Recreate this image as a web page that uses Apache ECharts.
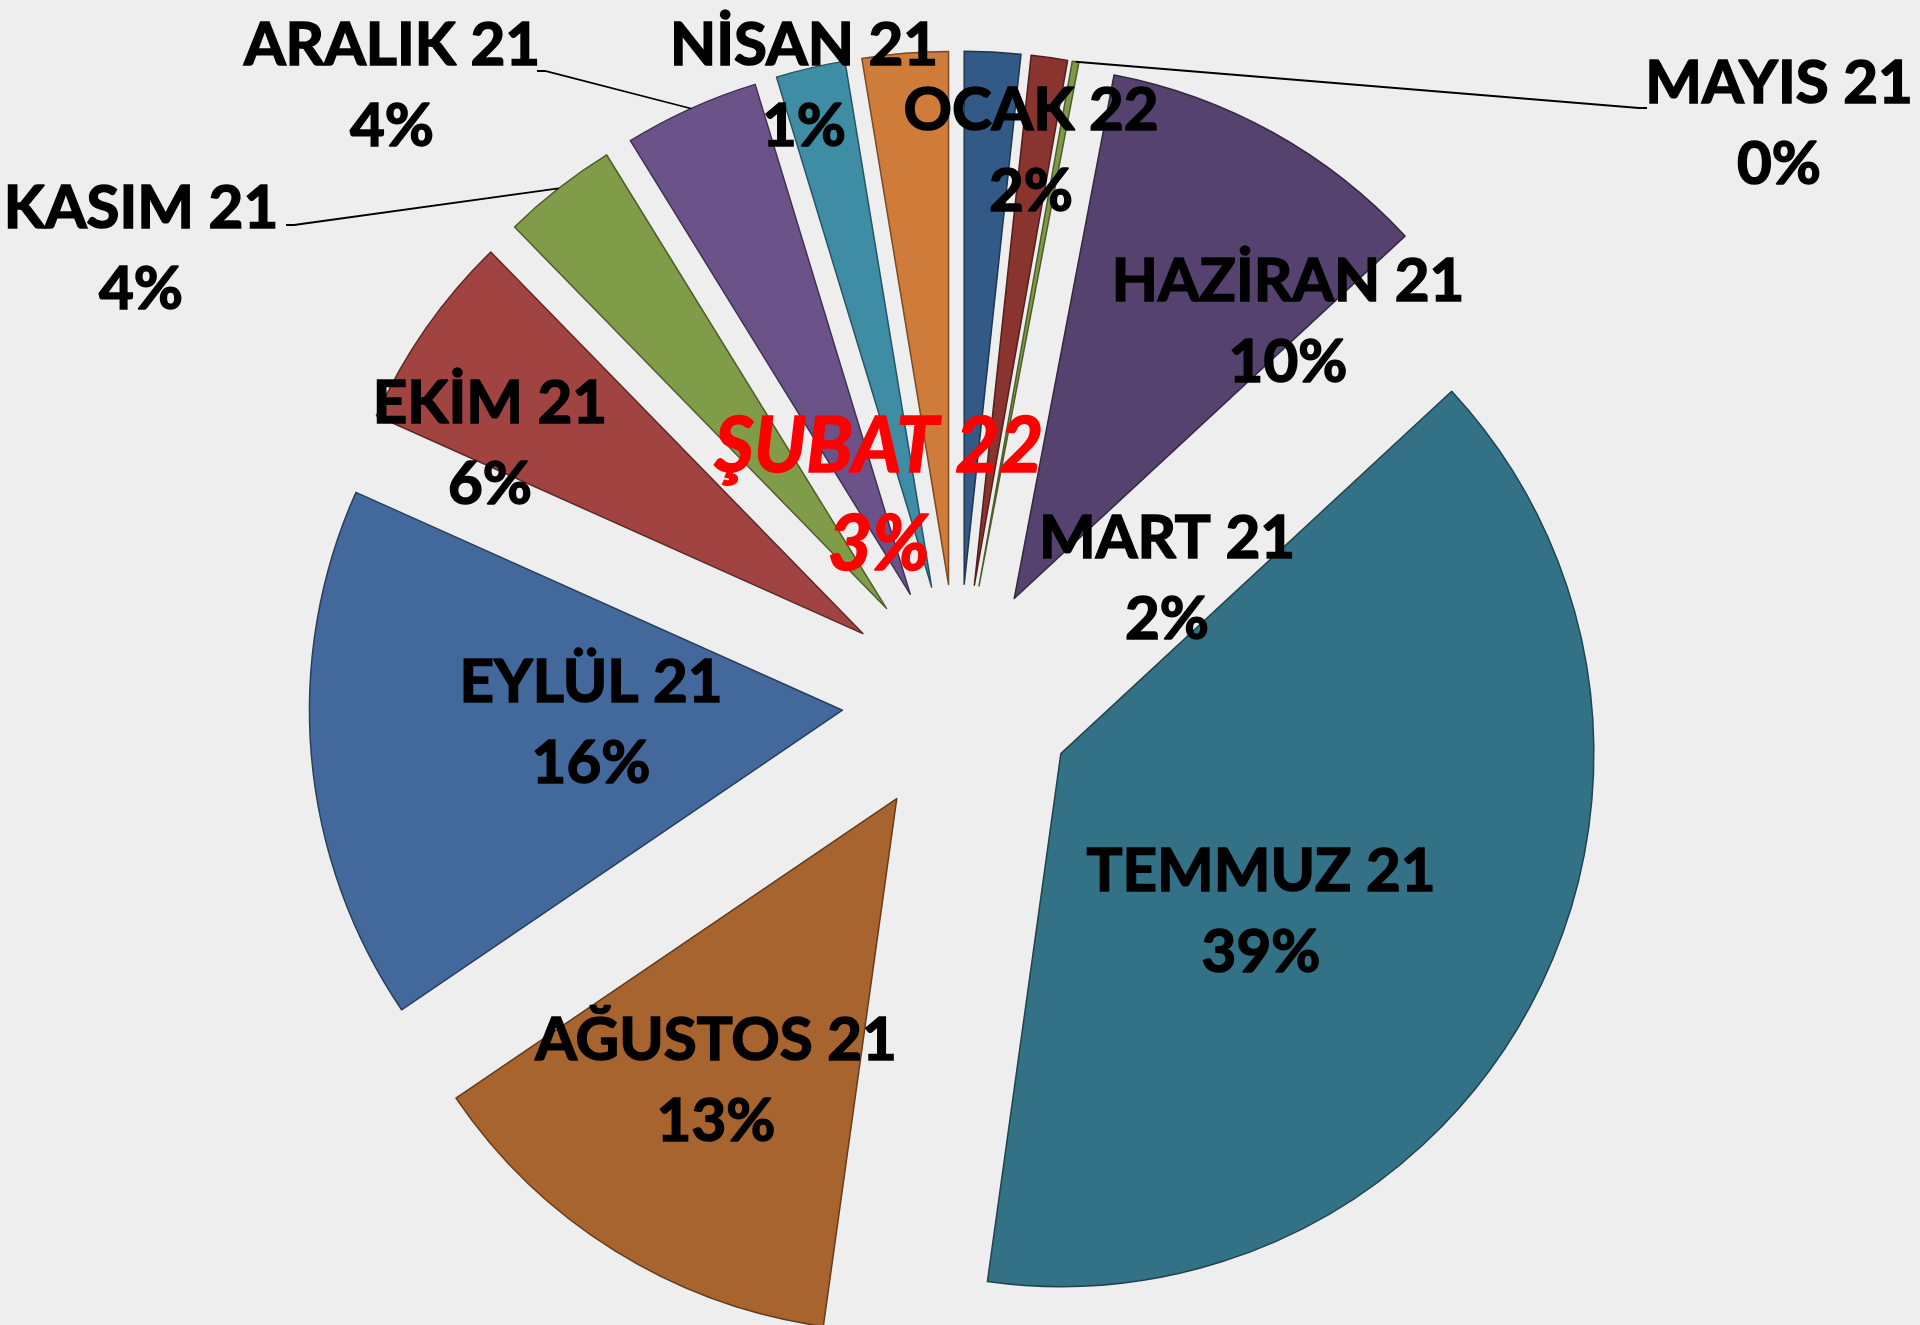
<!DOCTYPE html>
<html>
<head>
<meta charset="utf-8">
<script src="https://cdn.jsdelivr.net/npm/echarts@6/dist/echarts.min.js"></script>
<style>
html,body{margin:0;padding:0;background:#EEEEEE;}
#chart{width:1920px;height:1325px;}
</style>
</head>
<body>
<div id="chart"></div>
<script>
const categories = ['MART 21','NİSAN 21','MAYIS 21','HAZİRAN 21','TEMMUZ 21','AĞUSTOS 21','EYLÜL 21','EKİM 21','KASIM 21','ARALIK 21','OCAK 22','ŞUBAT 22'];
const values = [1.7, 1.1, 0.2, 10.1, 39.1, 13.3, 16.2, 6.0, 3.5, 4.1, 2.1, 2.6];
const colors = ['#335A87','#8A3430','#7E9A48','#56426F','#337286','#A8642E','#43699C','#A04341','#809C49','#6B5389','#3E8DA5','#CF7B3A'];
// label block centres (px) as placed in the reference
const labelPos = [[1167,579],[804,86],[1779,124],[1288,322],[1261,912],[716,1081],[591,723],[490,444],[141,249],[392,86],[1031,151],[879,496]];
// leader line end points next to the label text (px); null = no leader
const leaderEnd = [null,null,[1647,108],null,null,null,null,null,[286,225],[537,71],null,null];
const highlighted = 'ŞUBAT 22';

const CENTER = [958, 700];
const RADIUS = 533;
const EXPLODE = 116;
const FONT = "Lato, 'Open Sans', sans-serif";

const total = values.reduce((a, b) => a + b, 0);
const midAngles = [];
let acc = 0;
values.forEach(v => { midAngles.push((acc + v / 2) / total * Math.PI * 2); acc += v; });

function darken(hex, k) {
  const n = parseInt(hex.slice(1), 16);
  const r = Math.round(((n >> 16) & 255) * k), g = Math.round(((n >> 8) & 255) * k), b = Math.round((n & 255) * k);
  return 'rgb(' + r + ',' + g + ',' + b + ')';
}

const chart = echarts.init(document.getElementById('chart'));

const data = categories.map((name, i) => ({
  name: name,
  value: values[i],
  selected: true,
  itemStyle: { color: colors[i], borderColor: darken(colors[i], 0.6), borderWidth: 1.5 }
}));

const graphics = [];
leaderEnd.forEach((end, i) => {
  if (!end) return;
  const a = midAngles[i];
  const r = RADIUS + EXPLODE;
  const start = [CENTER[0] + r * Math.sin(a), CENTER[1] - r * Math.cos(a)];
  const dirX = end[0] > start[0] ? 1 : -1;
  const elbow = [end[0] - dirX * 8, end[1]];
  graphics.push({
    type: 'polyline',
    silent: true,
    z: 10,
    shape: { points: [start, elbow, end] },
    style: { stroke: '#000000', lineWidth: 1.8, fill: null }
  });
});
categories.forEach((name, i) => {
  const hl = name === highlighted;
  const col = hl ? '#FF0000' : '#000000';
  graphics.push({
    type: 'text',
    silent: true,
    z: 20,
    x: labelPos[i][0],
    y: labelPos[i][1],
    style: {
      text: name + '\n' + Math.round(values[i] / total * 100) + '%',
      fill: col,
      stroke: col,
      lineWidth: 1.6,
      fontFamily: FONT,
      fontWeight: 'bold',
      fontStyle: hl ? 'italic' : 'normal',
      fontSize: hl ? 76 : 60,
      lineHeight: hl ? 98 : 81,
      align: 'center',
      verticalAlign: 'middle'
    }
  });
});

chart.setOption({
  backgroundColor: '#EEEEEE',
  animation: false,
  graphic: graphics,
  series: [{
    type: 'pie',
    center: CENTER,
    radius: [0, RADIUS],
    startAngle: 90,
    clockwise: true,
    selectedMode: 'multiple',
    selectedOffset: EXPLODE,
    avoidLabelOverlap: false,
    data: data,
    label: { show: false },
    labelLine: { show: false },
    emphasis: { disabled: true }
  }]
});
</script>
</body>
</html>
